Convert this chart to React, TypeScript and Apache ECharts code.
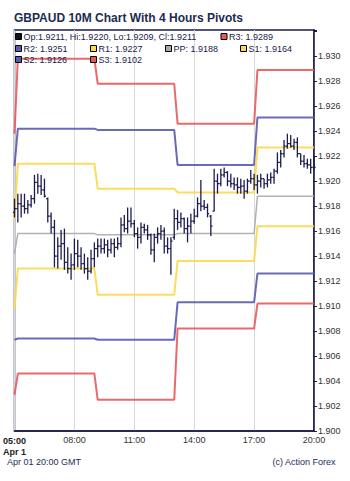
import React, { useEffect, useRef } from 'react';
import * as echarts from 'echarts';

const openPrices = [
  1.9175, 1.9178, 1.9182, 1.918, 1.9178, 1.9181, 1.9186, 1.9199, 1.9196, 1.9193,
  1.9186, 1.9172, 1.9163, 1.914, 1.9148, 1.915, 1.9135, 1.913, 1.9133, 1.9142,
  1.914, 1.9134, 1.913, 1.9128, 1.9138, 1.9146, 1.9148, 1.9146, 1.9149, 1.9145,
  1.915, 1.9147, 1.915, 1.9165, 1.9162, 1.9168, 1.9166, 1.9158, 1.9155, 1.9163,
  1.9161, 1.9157, 1.9145, 1.9155, 1.9158, 1.916, 1.9148, 1.9146, 1.9155, 1.917,
  1.9167, 1.917, 1.9162, 1.9164, 1.9168, 1.9172, 1.9182, 1.918, 1.9179, 1.9172,
  1.9176, 1.92, 1.9198, 1.9205, 1.9207, 1.92, 1.9198, 1.9197, 1.9195, 1.9196,
  1.9192, 1.92, 1.9202, 1.9197, 1.92, 1.9202, 1.9198, 1.9201, 1.9203, 1.9208,
  1.9215, 1.9222, 1.9228, 1.923, 1.9228, 1.9231, 1.9222, 1.9216, 1.9214, 1.9213,
  1.9211,
];
const highPrices = [
  1.9186, 1.919, 1.919, 1.919, 1.9185, 1.9189, 1.9205, 1.9206, 1.9205, 1.9202,
  1.9187, 1.9175, 1.9169, 1.9155, 1.9161, 1.9162, 1.9147, 1.9142, 1.9154, 1.9153,
  1.9147, 1.9142, 1.9139, 1.9145, 1.9151, 1.9154, 1.9154, 1.9154, 1.9153, 1.9154,
  1.9154, 1.9155, 1.9171, 1.9173, 1.9179, 1.9179, 1.9169, 1.9163, 1.9167, 1.9166,
  1.9165, 1.9158, 1.9158, 1.9163, 1.9165, 1.9163, 1.9155, 1.9155, 1.9178, 1.9177,
  1.9175, 1.9171, 1.9171, 1.9174, 1.9178, 1.9187, 1.9201, 1.9185, 1.9182, 1.9173,
  1.921, 1.9206, 1.921, 1.9211, 1.9208, 1.9206, 1.9203, 1.9203, 1.9202, 1.9201,
  1.9202, 1.9209, 1.9206, 1.9205, 1.9206, 1.9202, 1.9206, 1.9207, 1.921, 1.9223,
  1.9225, 1.9233, 1.9238, 1.9237, 1.9234, 1.9235, 1.9222, 1.9221, 1.9218, 1.9218,
  1.922,
];
const lowPrices = [
  1.9171, 1.9167, 1.9171, 1.9174, 1.9174, 1.9179, 1.9182, 1.919, 1.9189, 1.9187,
  1.9167, 1.9158, 1.9131, 1.913, 1.9137, 1.9129, 1.9126, 1.9121, 1.9129, 1.9131,
  1.9129, 1.9126, 1.9121, 1.9126, 1.9131, 1.9139, 1.9142, 1.9142, 1.9139, 1.9142,
  1.9139, 1.9145, 1.9147, 1.9159, 1.9158, 1.9163, 1.9155, 1.9146, 1.915, 1.9158,
  1.9153, 1.9141, 1.9135, 1.915, 1.9153, 1.9142, 1.9142, 1.9125, 1.9153, 1.9161,
  1.9163, 1.9158, 1.9151, 1.9158, 1.9166, 1.9171, 1.9176, 1.9177, 1.9171, 1.9156,
  1.9176, 1.919, 1.9196, 1.9203, 1.9196, 1.9195, 1.9193, 1.919, 1.919, 1.9186,
  1.919, 1.9198, 1.9193, 1.919, 1.9195, 1.9194, 1.9195, 1.9198, 1.9198, 1.9206,
  1.9211, 1.9219, 1.9226, 1.9227, 1.9225, 1.9219, 1.9213, 1.9211, 1.921, 1.9206,
  1.9209,
];
const closePrices = [
  1.9178, 1.9182, 1.918, 1.9178, 1.9181, 1.9186, 1.9199, 1.9196, 1.9193, 1.9188,
  1.9172, 1.9163, 1.914, 1.9148, 1.915, 1.9135, 1.913, 1.9133, 1.9142, 1.914,
  1.9134, 1.913, 1.9128, 1.9138, 1.9146, 1.9148, 1.9146, 1.9149, 1.9145, 1.915,
  1.9147, 1.915, 1.9165, 1.9162, 1.9168, 1.9166, 1.9158, 1.9155, 1.9163, 1.9161,
  1.9157, 1.9145, 1.9155, 1.9158, 1.916, 1.9148, 1.9146, 1.9152, 1.917, 1.9167,
  1.917, 1.9162, 1.9164, 1.9168, 1.9172, 1.9182, 1.918, 1.9179, 1.9174, 1.9164,
  1.92, 1.9198, 1.9205, 1.9207, 1.92, 1.9198, 1.9197, 1.9195, 1.9196, 1.9192,
  1.92, 1.9202, 1.9197, 1.92, 1.9202, 1.9198, 1.9201, 1.9203, 1.9208, 1.9215,
  1.9222, 1.9228, 1.923, 1.9228, 1.9231, 1.9222, 1.9216, 1.9214, 1.9213, 1.9211,
  1.9211,
];

// last bar index of each 4-hour pivot period (first entry = previous period)
const periodEnds = [0, 24, 48, 72, 90];
const r3Levels = [1.9238, 1.9298, 1.9278, 1.9246, 1.9289];
const r2Levels = [1.9212, 1.9242, 1.9241, 1.9213, 1.9251];
const r1Levels = [1.9169, 1.9214, 1.9194, 1.9191, 1.9227];
const ppLevels = [1.9142, 1.9158, 1.9157, 1.9158, 1.9188];
const s1Levels = [1.9098, 1.913, 1.9109, 1.9136, 1.9164];
const s2Levels = [1.9073, 1.9074, 1.9073, 1.9103, 1.9126];
const s3Levels = [1.9029, 1.9046, 1.9025, 1.9082, 1.9102];

const yTicks = { min: 1.9, max: 1.9321, step: 0.002, lastLabel: 1.93 };

const timeLabels: string[] = openPrices.map((_, i) => {
  const m = 5 * 60 + 10 * i;
  const h = Math.floor(m / 60);
  const mm = m % 60;
  return `${String(h).padStart(2, '0')}:${String(mm).padStart(2, '0')}`;
});

const RED = '#e65a5a';
const BLUE = '#5a5ab4';
const YELLOW = '#fbd84e';
const GRAY = '#aaaaaa';
const NAVY = '#1b1b4d';

export default function App() {
  const ref = useRef<HTMLDivElement>(null);
  useEffect(() => {
    const chart = echarts.init(ref.current!, null, { renderer: 'svg' });
    const periodOf = (i: number) => periodEnds.findIndex((e) => i <= e);
    const expand = (vals: number[]) => timeLabels.map((_, i) => vals[periodOf(i)]);
    const last = openPrices.length - 1;
    const fmt = (v: number) => v.toFixed(4);

    const pivotSeries = [
      { name: 'R3', vals: r3Levels, color: RED, w: 2 },
      { name: 'R2', vals: r2Levels, color: BLUE, w: 2 },
      { name: 'R1', vals: r1Levels, color: YELLOW, w: 2 },
      { name: 'PP', vals: ppLevels, color: GRAY, w: 1.5 },
      { name: 'S1', vals: s1Levels, color: YELLOW, w: 2 },
      { name: 'S2', vals: s2Levels, color: BLUE, w: 2 },
      { name: 'S3', vals: s3Levels, color: RED, w: 2 },
    ].map((p) => ({
      type: 'line',
      name: p.name,
      data: expand(p.vals),
      symbol: 'none',
      silent: true,
      lineStyle: { color: p.color, width: p.w, opacity: 0.9 },
      z: 2,
    }));

    const ohlc = openPrices.map((o, i) => [i, o, highPrices[i], lowPrices[i], closePrices[i]]);

    const font = 'Arial, "Liberation Sans", sans-serif';
    const legendItems = [
      { label: `Op:${fmt(openPrices[last])}, Hi:${fmt(highPrices[last])}, Lo:${fmt(lowPrices[last])}, Cl:${fmt(closePrices[last])}`, color: '#111122', x: 15.5, y: 37 },
      { label: `R3: ${fmt(r3Levels[4])}`, color: RED, x: 221, y: 37 },
      { label: `R2: ${fmt(r2Levels[4])}`, color: BLUE, x: 15.5, y: 49 },
      { label: `R1: ${fmt(r1Levels[4])}`, color: YELLOW, x: 90.5, y: 49 },
      { label: `PP: ${fmt(ppLevels[4])}`, color: GRAY, x: 165.5, y: 49 },
      { label: `S1: ${fmt(s1Levels[4])}`, color: YELLOW, x: 240.5, y: 49 },
      { label: `S2: ${fmt(s2Levels[4])}`, color: BLUE, x: 15.5, y: 60 },
      { label: `S3: ${fmt(s3Levels[4])}`, color: RED, x: 90.5, y: 60 },
    ];
    const legendGraphics: any[] = [];
    legendItems.forEach((it) => {
      legendGraphics.push({
        type: 'rect',
        shape: { x: it.x, y: it.y - 3.5, width: 6, height: 6 },
        style: { fill: it.color, stroke: '#000', lineWidth: 1 },
        z: 100,
      });
      legendGraphics.push({
        type: 'text',
        x: it.x + 8,
        y: it.y,
        style: { text: it.label, fill: '#1a1a4a', fontSize: 9, fontFamily: font, verticalAlign: 'middle', align: 'left' },
        z: 100,
      });
    });

    chart.setOption({
      animation: false,
      backgroundColor: '#fff',
      title: {
        text: 'GBPAUD 10M Chart With 4 Hours Pivots',
        left: 9,
        top: 7,
        textStyle: { fontSize: 12, fontWeight: 'bold', color: '#1d2b50', fontFamily: font },
      },
      grid: {
        left: 11,
        right: 36,
        top: 30,
        bottom: 50,
        show: true,
        borderColor: NAVY,
        borderWidth: 1.5,
        backgroundColor: '#fff',
      },
      xAxis: {
        type: 'category',
        data: timeLabels,
        boundaryGap: false,
        axisLine: { lineStyle: { color: NAVY, width: 1.5 } },
        axisTick: { show: false },
        axisLabel: {
          interval: 17,
          fontSize: 9,
          color: '#333',
          fontFamily: font,
          margin: 4,
          formatter: (v: string, idx: number) => (idx === 0 ? `{b|${v}}\n{b|Apr 1}` : v),
          rich: { b: { fontWeight: 'bold', fontSize: 9, color: '#222', fontFamily: font, lineHeight: 11 } },
        },
        splitLine: { show: true, interval: 17, lineStyle: { color: '#d8d8d8', width: 1 } },
      },
      yAxis: {
        type: 'value',
        position: 'right',
        min: yTicks.min,
        max: yTicks.max,
        interval: yTicks.step,
        axisLine: { show: true, lineStyle: { color: NAVY, width: 1.5 } },
        axisTick: { show: true, length: 3, lineStyle: { color: NAVY } },
        axisLabel: {
          fontSize: 9,
          color: '#333',
          fontFamily: font,
          margin: 4,
          formatter: (v: number) => (v > yTicks.lastLabel + 0.0005 ? '' : v.toFixed(3)),
        },
        splitLine: { show: false },
      },
      graphic: [
        ...legendGraphics,
        {
          type: 'text',
          left: 7,
          top: 457,
          style: { text: 'Apr 01 20:00 GMT', fill: '#1e2a5a', fontSize: 9, fontFamily: font },
        },
        {
          type: 'text',
          right: 14,
          top: 457,
          style: { text: '(c) Action Forex', fill: '#1e2a5a', fontSize: 9, fontFamily: font },
        },
      ],
      series: [
        ...pivotSeries,
        {
          type: 'custom',
          name: 'GBPAUD',
          data: ohlc,
          dimensions: ['idx', 'open', 'high', 'low', 'close'],
          encode: { x: 0, y: [1, 2, 3, 4] },
          z: 5,
          renderItem: (params: any, api: any) => {
            const i = api.value(0);
            const hi = api.coord([i, api.value(2)]);
            const lo = api.coord([i, api.value(3)]);
            const op = api.coord([i, api.value(1)]);
            const cl = api.coord([i, api.value(4)]);
            const x = hi[0];
            const style = { stroke: NAVY, lineWidth: 1.3 };
            return {
              type: 'group',
              children: [
                { type: 'line', shape: { x1: x, y1: hi[1], x2: x, y2: lo[1] }, style },
                { type: 'line', shape: { x1: x - 1.6, y1: op[1], x2: x, y2: op[1] }, style },
                { type: 'line', shape: { x1: x, y1: cl[1], x2: x + 1.6, y2: cl[1] }, style },
              ],
            };
          },
        },
      ],
    });
    return () => chart.dispose();
  }, []);
  return (
    <div
      ref={ref}
      style={{ position: 'fixed', left: 0, top: 0, width: 350, height: 481, background: '#fff' }}
    />
  );
}
